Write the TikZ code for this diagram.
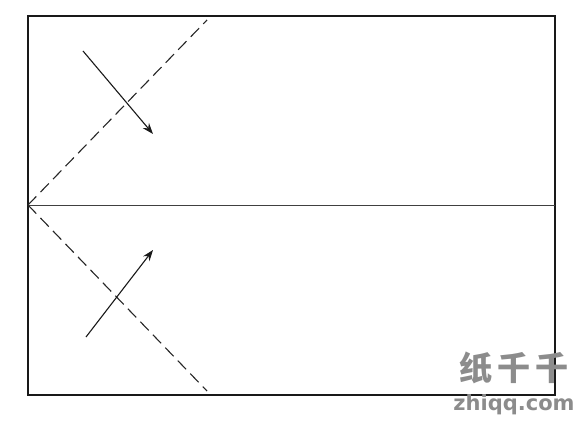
\documentclass[tikz,border=0pt]{standalone}
\usepackage{fontspec}
\newfontfamily\cjkwm{Noto Sans CJK SC}
\setsansfont{DejaVu Sans}
\usetikzlibrary{arrows.meta}
\begin{document}
\begin{tikzpicture}[x=1pt,y=-1pt,
  frame/.style={line width=1.8pt,black!90},
  midline/.style={line width=0.7pt,black!75},
  foldline/.style={line width=1.1pt,black!85,dash pattern=on 12pt off 6pt},
  movearrow/.style={line width=1.1pt,black!90,-{Stealth[length=11pt,width=8pt]}},
  wm/.style={text=black!45,inner sep=0pt}]
\useasboundingbox (0,0) rectangle (585,427);
\coordinate (tl) at (28,16);
\coordinate (br) at (555,395);
\coordinate (ml) at (28,205);
\coordinate (mr) at (555,205);
\coordinate (dtop) at (207,20);
\coordinate (dbot) at (207,391);
\coordinate (a1s) at (83,51);
\coordinate (a1e) at (153,134);
\coordinate (a2s) at (86,337);
\coordinate (a2e) at (153,250);
\draw[frame] (tl) rectangle (br);
\draw[midline] (ml) -- (mr);
\draw[foldline] (ml) -- (dtop);
\draw[foldline] (ml) -- (dbot);
\draw[movearrow] (a1s) -- (a1e);
\draw[movearrow] (a2s) -- (a2e);
\node[wm,font=\cjkwm\bfseries\fontsize{33}{33}\selectfont] (wm1) at (514,368) {纸\,千\,千};
\node[wm,font=\sffamily\bfseries\fontsize{21}{21}\selectfont] (wm2) at (514,405) {zhiqq.com};
\end{tikzpicture}
\end{document}
